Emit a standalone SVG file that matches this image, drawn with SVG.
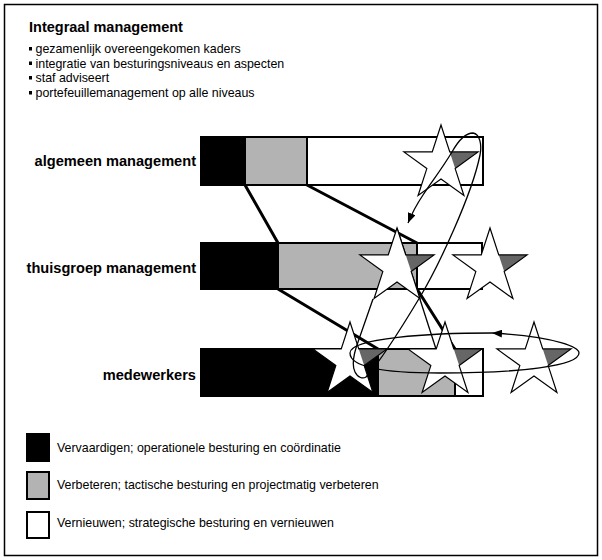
<svg xmlns="http://www.w3.org/2000/svg" xmlns:xlink="http://www.w3.org/1999/xlink" width="602" height="560" viewBox="0 0 602 560">
  <style>
    .txt { font-family: "Liberation Sans", Arial, sans-serif; fill: #000; }
    .title { font-size: 14.5px; font-weight: bold; }
    .item { font-size: 12.4px; }
    .lvl { font-size: 14.6px; font-weight: bold; text-anchor: end; }
    .blk { fill: #000; stroke: #000; stroke-width: 2; }
    .gry { fill: #b3b3b3; stroke: #000; stroke-width: 2; }
    .wht { fill: #fff; stroke: #000; stroke-width: 2; }
    .thick { stroke: #000; stroke-width: 3; fill: none; stroke-linecap: round; }
    .thin { stroke: #000; stroke-width: 1.3; fill: none; }
  </style>
  <defs>
    <!-- five-pointed star, centred on 0,0, outer radius 39 -->
    <path id="star-shape" d="M0,-39 L8.76,-12.05 L37.09,-12.05 L14.17,4.6 L22.92,31.55 L0,14.9 L-22.92,31.55 L-14.17,4.6 L-37.09,-12.05 L-8.76,-12.05 Z"/>
    <g id="star">
      <use xlink:href="#star-shape" fill="#fff"/>
      <path d="M8.76,-12.05 L37.09,-12.05 L14.17,4.6 Z" fill="#666"/>
      <use xlink:href="#star-shape" fill="none" stroke="#000" stroke-width="1.2" stroke-linejoin="miter"/>
    </g>
    <marker id="arrow" viewBox="0 0 10 8" refX="10" refY="4" markerWidth="10" markerHeight="8" markerUnits="userSpaceOnUse" orient="auto">
      <path d="M0,0 L10,4 L0,8 Z" fill="#000"/>
    </marker>
  </defs>

  <rect width="602" height="560" fill="#fff"/>
  <!-- outer frame -->
  <rect x="4.5" y="4.5" width="593" height="551" fill="none" stroke="#000" stroke-width="1.5"/>

  <!-- heading and bullet list -->
  <g id="heading">
    <text class="txt title" x="29" y="32">Integraal management</text>
    <g class="txt item">
      <rect x="29" y="47" width="3" height="3.5"/>
      <text x="35.5" y="53">gezamenlijk overeengekomen kaders</text>
      <rect x="29" y="61.5" width="3" height="3.5"/>
      <text x="35.5" y="67.5">integratie van besturingsniveaus en aspecten</text>
      <rect x="29" y="76" width="3" height="3.5"/>
      <text x="35.5" y="82">staf adviseert</text>
      <rect x="29" y="91" width="3" height="3.5"/>
      <text x="35.5" y="97">portefeuillemanagement op alle niveaus</text>
    </g>
  </g>

  <!-- management levels -->
  <g id="level-algemeen">
    <text class="txt lvl" x="196" y="166">algemeen management</text>
    <rect class="blk" x="201" y="137" width="44" height="48"/>
    <rect class="gry" x="245" y="137" width="62" height="48"/>
    <rect class="wht" x="307" y="137" width="176" height="48"/>
  </g>
  <g id="level-thuisgroep">
    <text class="txt lvl" x="196" y="273">thuisgroep management</text>
    <rect class="blk" x="201" y="243" width="77" height="46"/>
    <rect class="gry" x="278" y="243" width="139" height="46"/>
    <rect class="wht" x="417" y="243" width="65" height="46"/>
  </g>
  <g id="level-medewerkers">
    <text class="txt lvl" x="196" y="380">medewerkers</text>
    <rect class="blk" x="201" y="349" width="177" height="47"/>
    <rect class="gry" x="378" y="349" width="77" height="47"/>
    <rect class="wht" x="455" y="349" width="28" height="47"/>
  </g>

  <!-- links between the levels -->
  <g id="connectors">
    <line class="thick" x1="245" y1="185" x2="278" y2="243"/>
    <line class="thick" x1="307" y1="185" x2="417" y2="243"/>
    <line class="thick" x1="278" y1="289" x2="378" y2="349"/>
    <line class="thick" x1="417" y1="289" x2="455" y2="349"/>
    <line class="thin" x1="397" y1="228" x2="436" y2="349"/>
  </g>

  <!-- stars -->
  <g id="star-top"><use xlink:href="#star" transform="translate(441,164)"/></g>
  <g id="star-mid-1"><use xlink:href="#star" transform="translate(397,267)"/></g>
  <g id="star-mid-2"><use xlink:href="#star" transform="translate(490,267)"/></g>
  <g id="star-low-1"><use xlink:href="#star" transform="translate(350,361)"/></g>
  <g id="star-low-2"><use xlink:href="#star" transform="translate(445,361)"/></g>
  <g id="star-low-3"><use xlink:href="#star" transform="translate(534,361)"/></g>

  <!-- cycles -->
  <g id="cycles">
    <path class="thin" marker-end="url(#arrow)" d="M373,299 L358,342 C354,353 351,364 355,372 C358,378 363,379 366,377 C380,362 405,322 420,297 C438,267 472,195 480,155 C482,145 480,134 473,133 C465,133 457,143 452,152 C443,167 431,183 423,195 C417,204 412,213 408,223"/>
    <path class="thin" marker-end="url(#arrow)" d="M579,353 C579,348 560,337 492,333"/>
    <path class="thin" d="M492,333 C430,333 350,338 350,353 C350,366 380,373 440,373 C520,373 579,366 579,353"/>
  </g>

  <!-- legend -->
  <g id="legend">
    <g id="legend-vervaardigen">
      <rect x="26" y="433" width="24" height="29" fill="#000"/>
      <text class="txt item" x="57" y="452">Vervaardigen; operationele besturing en coördinatie</text>
    </g>
    <g id="legend-verbeteren">
      <rect class="gry" x="27" y="472" width="22" height="27"/>
      <text class="txt item" x="57" y="489">Verbeteren; tactische besturing en projectmatig verbeteren</text>
    </g>
    <g id="legend-vernieuwen">
      <rect class="wht" x="27" y="512" width="22" height="26"/>
      <text class="txt item" x="57" y="527">Vernieuwen; strategische besturing en vernieuwen</text>
    </g>
  </g>
</svg>
